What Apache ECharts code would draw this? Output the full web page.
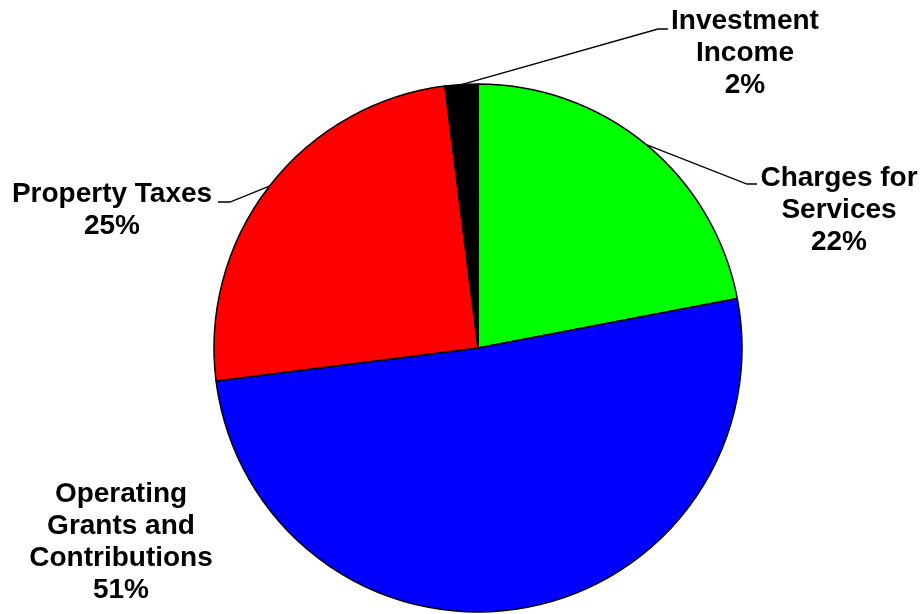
<!DOCTYPE html>
<html>
<head>
<meta charset="utf-8">
<script src="https://cdn.jsdelivr.net/npm/echarts@6/dist/echarts.min.js"></script>
<style>
  html, body { margin: 0; padding: 0; background: #fff; }
  #main { width: 924px; height: 614px; }
</style>
</head>
<body>
<div id="main"></div>
<script>
const names = ['Charges for\nServices', 'Operating\nGrants and\nContributions', 'Property Taxes', 'Investment\nIncome']
const values = [22, 51, 25, 2]
const colors = ['#00ff00', '#0000ff', '#ff0000', '#000000']

// where each label sits, and the bend of its leader line
const labelPos = [
    { x: 839, y: 210, bend: [747, 184], end: [757, 184] },
    { x: 121, y: 542 },
    { x: 112, y: 210, bend: [230, 202], end: [218, 202] },
    { x: 745, y: 53, bend: [658, 29], end: [668, 29] }
]

const lineStyle = { color: '#000', width: 1.3 }

const myChart = echarts.init(document.querySelector('#main'))

myChart.setOption({
    animation: false,
    series: [{
        type: 'pie',
        center: [478, 348],
        radius: 264,
        startAngle: 90,
        clockwise: true,
        percentPrecision: 0,
        silent: true,
        itemStyle: {
            borderColor: '#000',
            borderWidth: 1.5
        },
        label: {
            show: true,
            position: 'outside',
            formatter: '{b}\n{d}%',
            color: '#000',
            fontFamily: 'Liberation Sans, Arial, sans-serif',
            fontWeight: 'bold',
            fontSize: 28,
            lineHeight: 32,
            align: 'center'
        },
        labelLine: {
            show: true,
            lineStyle: lineStyle
        },
        labelLayout: (params) => {
            const p = labelPos[params.dataIndex]
            const out = { x: p.x, y: p.y, align: 'center', verticalAlign: 'middle' }
            if (p.bend && params.labelLinePoints) {
                out.labelLinePoints = [params.labelLinePoints[0], p.bend, p.end]
            }
            return out
        },
        data: names.map((n, i) => ({
            name: n,
            value: values[i],
            itemStyle: { color: colors[i] },
            labelLine: { show: !!labelPos[i].bend, lineStyle: lineStyle }
        }))
    }]
})
</script>
</body>
</html>
